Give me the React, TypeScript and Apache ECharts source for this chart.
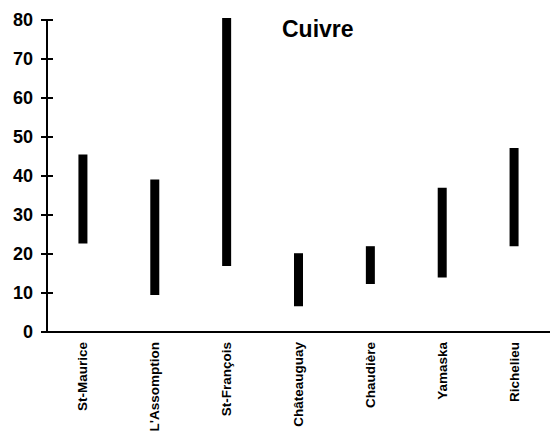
import React, { useEffect, useRef } from "react";
import * as echarts from "echarts";

const categories = ["St-Maurice", "L'Assomption", "St-François", "Châteauguay", "Chaudière", "Yamaska", "Richelieu"];
const lowValues = [22.7, 9.5, 16.9, 6.6, 12.3, 14, 22];
const highValues = [45.5, 39.1, 80.5, 20.2, 22, 37, 47.2];
const yTicks = { min: 0, max: 80, interval: 10 };
const titleText = "Cuivre";

const FONT = "'Liberation Sans', Arial, Helvetica, sans-serif";

export default function App() {
  const ref = useRef<HTMLDivElement>(null);
  useEffect(() => {
    if (!ref.current) return;
    const chart = echarts.init(ref.current, undefined, { renderer: "svg" });
    const ranges = highValues.map((h, i) => +(h - lowValues[i]).toFixed(2));
    chart.setOption({
      animation: false,
      backgroundColor: "#ffffff",
      title: {
        text: titleText,
        left: 277,
        top: 12,
        textStyle: { fontFamily: FONT, fontWeight: "bold", fontSize: 23, color: "#000" },
      },
      grid: { left: 47, top: 20, width: 506, height: 312 },
      xAxis: {
        type: "category",
        data: categories,
        boundaryGap: true,
        axisLine: { show: true, lineStyle: { color: "#000", width: 2 } },
        axisTick: { show: false },
        axisLabel: {
          rotate: 90,
          margin: 10,
          fontFamily: FONT,
          fontWeight: "bold",
          fontSize: 13.5,
          color: "#000",
          interval: 0,
        },
        splitLine: { show: false },
      },
      yAxis: [
        {
          type: "value",
          min: yTicks.min,
          max: yTicks.max,
          interval: yTicks.interval,
          axisLine: { show: true, lineStyle: { color: "#000", width: 2 } },
          axisTick: { show: true, length: 6, lineStyle: { color: "#000", width: 2 } },
          axisLabel: {
            margin: 14,
            fontFamily: FONT,
            fontWeight: "bold",
            fontSize: 18,
            color: "#000",
          },
          splitLine: { show: false },
        },
        {
          type: "value",
          position: "left",
          min: yTicks.min,
          max: yTicks.max,
          interval: yTicks.interval,
          axisLine: { show: false },
          axisTick: { show: true, inside: true, length: 6, lineStyle: { color: "#000", width: 2 } },
          axisLabel: { show: false },
          splitLine: { show: false },
        },
      ],
      series: [
        {
          type: "bar",
          stack: "range",
          data: lowValues,
          barWidth: 9,
          itemStyle: { color: "transparent" },
          silent: true,
          clip: false,
        },
        {
          type: "bar",
          stack: "range",
          data: ranges,
          barWidth: 9,
          itemStyle: { color: "#000" },
          clip: false,
        },
      ],
    });
    return () => chart.dispose();
  }, []);
  return (
    <div
      ref={ref}
      style={{ position: "absolute", left: 0, top: 0, width: 550, height: 435 }}
    />
  );
}
